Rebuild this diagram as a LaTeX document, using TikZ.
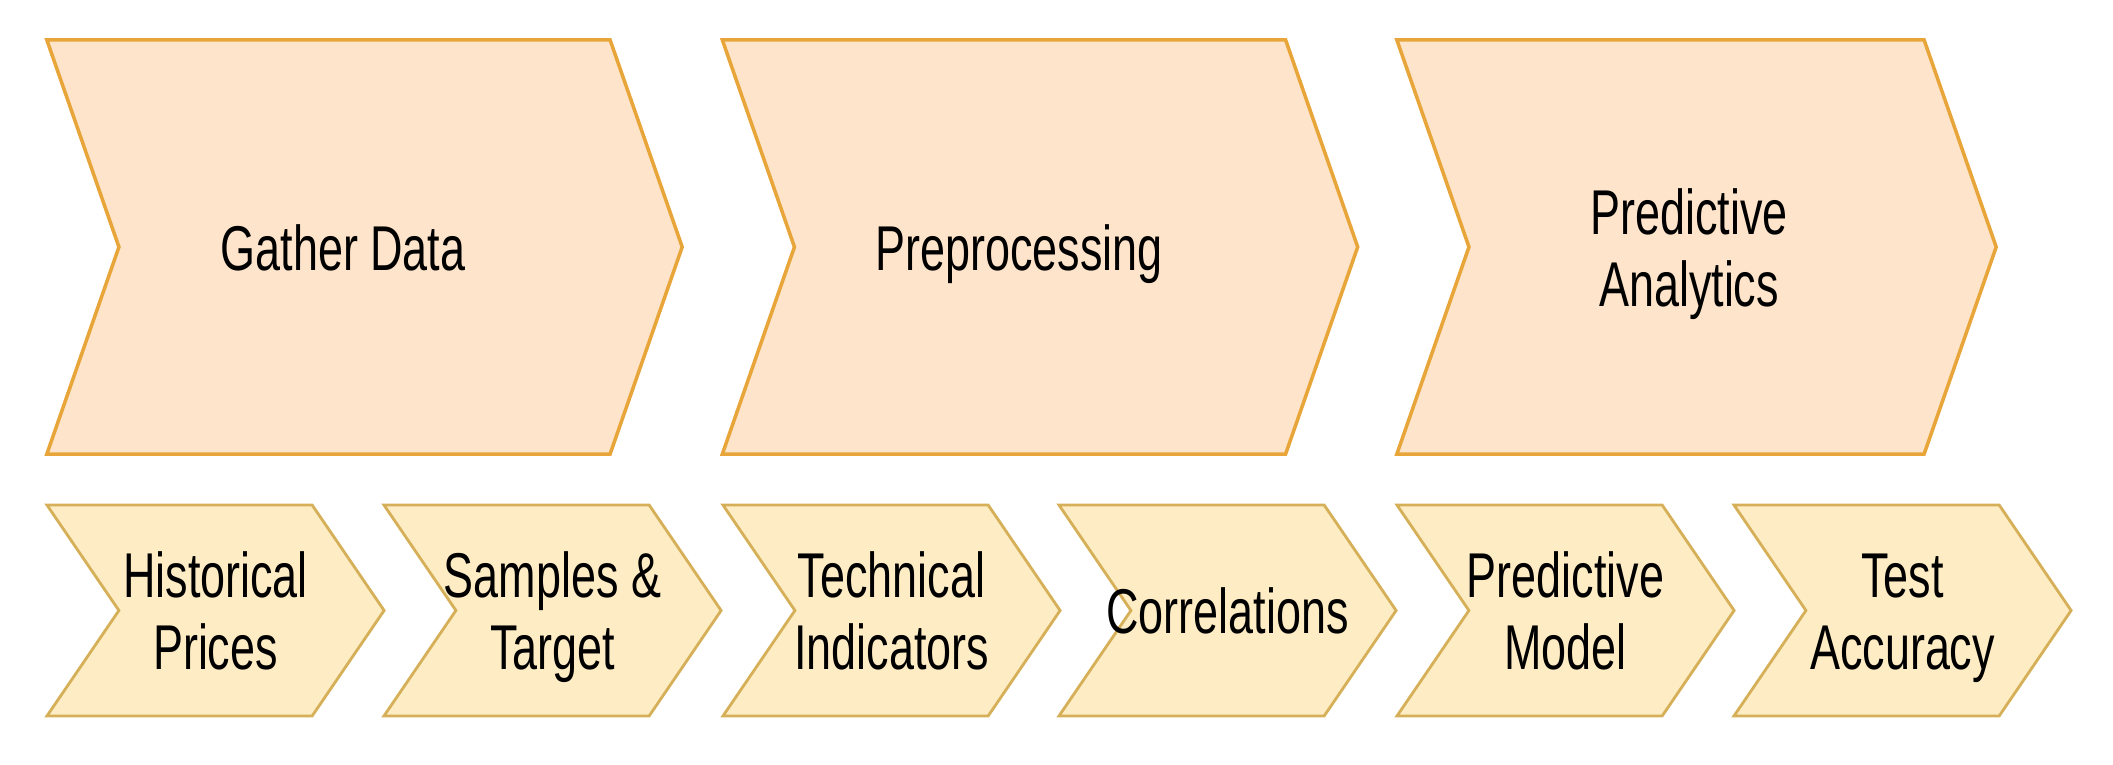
\documentclass[tikz,border=0pt]{standalone}
\usepackage{fontspec}
\setmainfont[FakeStretch=0.71]{Liberation Sans}
\usetikzlibrary{shapes.symbols}
\definecolor{phasefill}{RGB}{254,228,202}
\definecolor{phaseline}{RGB}{232,166,58}
\definecolor{taskfill}{RGB}{254,236,196}
\definecolor{taskline}{RGB}{214,176,88}

\begin{document}
\begin{tikzpicture}[x=0.01cm,y=-0.01cm,
  phase/.style={signal, signal to=east, signal from=west,
    signal pointer angle=141.6, draw=phaseline, fill=phasefill,
    line width=1pt, minimum height=4.14cm, inner sep=0pt},
  task/.style={signal, signal to=east, signal from=west,
    signal pointer angle=111.4, draw=taskline, fill=taskfill,
    line width=0.8pt, minimum height=2.11cm, minimum width=3.37cm,
    inner sep=0pt},
  caption/.style={align=center, inner sep=0pt, yshift=-0.09cm,
    font=\fontsize{18}{20.5}\selectfont}]
\useasboundingbox (0,0) rectangle (2113,765);
% phases
\node[phase, minimum width=6.35cm, label={[caption, xshift=-0.215cm]center:Gather Data\strut}] (gather) at (364.5,247) {};
\node[phase, minimum width=6.35cm, label={[caption, xshift=-0.21cm]center:Preprocessing\strut}] (prep) at (1040,247) {};
\node[phase, minimum width=5.99cm, label={[caption, xshift=-0.075cm]center:Predictive\strut\\Analytics\strut}] (analytics) at (1696.5,247) {};
% tasks
\foreach \x/\name/\txt in {215.5/hist/Historical\strut\\Prices\strut,
  552.5/samples/Samples \&\strut\\Target\strut,
  891.5/indic/Technical\strut\\Indicators\strut, 1227.5/corr/Correlations\strut,
  1565.5/model/Predictive\strut\\Model\strut, 1902.5/acc/Test\strut\\Accuracy\strut}
{       \node[task, label={[caption]center:\txt}] (\name) at (\x,610.5) {};
}
\end{tikzpicture}
\end{document}
